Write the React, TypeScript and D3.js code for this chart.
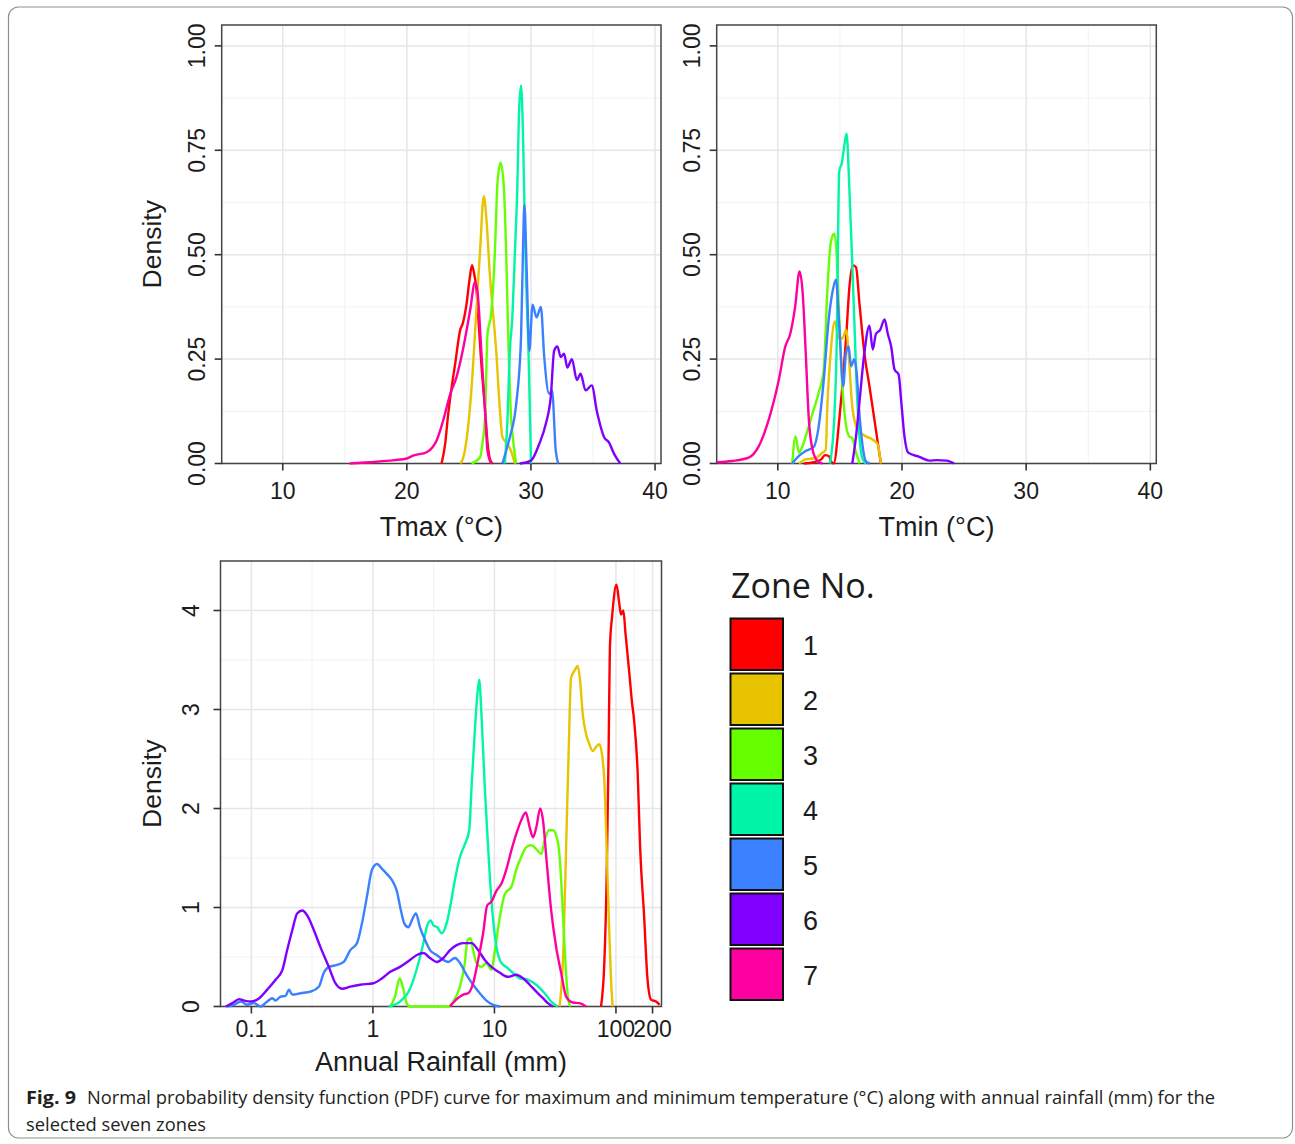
import React from "react";
import * as d3 from "d3";

type Pt = [number, number];

// ---------- categories / styling keys ----------
const ZONES = ["1", "2", "3", "4", "5", "6", "7"];
const ZONE_COLORS = ["#FF0000", "#E8C300", "#66FF00", "#00F5A8", "#3A80FF", "#8000FF", "#FF00A0"];

// ---------- tick labels ----------
const TEMP_X_TICKS = [10, 20, 30, 40];
const TEMP_X_MINOR = [15, 25, 35];
const TEMP_Y_TICKS = [0, 0.25, 0.5, 0.75, 1];
const TEMP_Y_LABELS = ["0.00", "0.25", "0.50", "0.75", "1.00"];
const TEMP_Y_MINOR = [0.125, 0.375, 0.625, 0.875];
const RAIN_X_TICKS = [0.1, 1, 10, 100, 200];
const RAIN_X_LABELS = ["0.1", "1", "10", "100", "200"];
const RAIN_X_MINOR = [0.316, 3.16, 31.6, 141.4];
const RAIN_Y_TICKS = [0, 1, 2, 3, 4];
const RAIN_Y_LABELS = ["0", "1", "2", "3", "4"];
const RAIN_Y_MINOR = [0.5, 1.5, 2.5, 3.5];

// ---------- Tmax density (°C, density) ----------
const tmaxZone1: Pt[] = [[22.8,0],[23.1,0.05],[23.3,0.11],[23.6,0.18],[23.9,0.24],[24.3,0.32],[24.5,0.335],[24.8,0.38],[25.05,0.44],[25.25,0.475],[25.45,0.45],[25.6,0.42],[25.8,0.33],[26.0,0.24],[26.3,0.13],[26.5,0.05],[26.7,0.01],[26.9,0]];
const tmaxZone2: Pt[] = [[24.3,0],[24.6,0.02],[24.8,0.055],[25.2,0.175],[25.6,0.367],[25.9,0.51],[26.2,0.64],[26.4,0.59],[26.7,0.447],[26.9,0.375],[27.2,0.27],[27.5,0.127],[27.7,0.063],[28.1,0.047],[28.4,0.03],[28.7,0]];
const tmaxZone3: Pt[] = [[25.2,0],[25.9,0.015],[26.1,0.05],[26.3,0.11],[26.5,0.31],[26.8,0.36],[27.1,0.51],[27.3,0.67],[27.55,0.72],[27.8,0.67],[28.0,0.51],[28.2,0.27],[28.4,0.11],[28.6,0.047],[28.8,0]];
const tmaxZone4: Pt[] = [[27.9,0],[28.1,0.1],[28.3,0.27],[28.5,0.35],[28.7,0.5],[28.9,0.66],[29.05,0.85],[29.2,0.905],[29.35,0.8],[29.47,0.625],[29.6,0.45],[29.8,0.27],[29.95,0.08],[30.0,0]];
const tmaxZone5: Pt[] = [[27.7,0],[28.0,0.03],[28.3,0.063],[28.8,0.14],[29.2,0.3],[29.35,0.5],[29.47,0.62],[29.65,0.47],[29.87,0.27],[30.13,0.38],[30.45,0.35],[30.8,0.375],[31.07,0.255],[31.47,0.167],[31.7,0.175],[32.0,0.03],[32.2,0]];
const tmaxZone6: Pt[] = [[29.1,0],[30.0,0.007],[30.67,0.047],[31.2,0.095],[31.6,0.16],[31.87,0.27],[32.13,0.28],[32.4,0.255],[32.67,0.263],[32.93,0.23],[33.3,0.25],[33.7,0.2],[34.0,0.215],[34.4,0.175],[34.9,0.187],[35.3,0.127],[35.9,0.063],[36.3,0.05],[36.7,0.023],[37.2,0]];
const tmaxZone7: Pt[] = [[15.4,0],[17,0.003],[19,0.008],[20,0.012],[20.5,0.019],[21.6,0.027],[22.1,0.04],[22.4,0.055],[22.9,0.1],[23.5,0.167],[24,0.207],[24.5,0.27],[25.1,0.367],[25.5,0.435],[25.7,0.41],[26,0.27],[26.3,0.127],[26.5,0.03],[26.8,0]];

// ---------- Tmin density ----------
const tminZone1: Pt[] = [[12.1,0],[12.9,0.003],[13.5,0.01],[13.8,0.02],[14.1,0.018],[14.3,0.005],[14.5,0],[14.95,0.105],[15.2,0.185],[15.5,0.3],[15.76,0.42],[16.03,0.475],[16.3,0.47],[16.57,0.385],[16.97,0.265],[17.38,0.185],[17.78,0.105],[18.05,0.05],[18.3,0]];
const tminZone2: Pt[] = [[11.7,0],[12.24,0.01],[13.05,0.013],[13.6,0.026],[13.86,0.033],[14.0,0.145],[14.27,0.27],[14.6,0.34],[14.9,0.3],[15.2,0.3],[15.5,0.32],[15.7,0.265],[15.97,0.145],[16.3,0.09],[16.7,0.073],[17.1,0.065],[17.65,0.057],[18.05,0.045],[18.3,0]];
const tminZone3: Pt[] = [[11.16,0],[11.43,0.065],[11.7,0.026],[11.97,0.04],[12.4,0.08],[12.8,0.12],[13.3,0.17],[13.7,0.225],[14.0,0.42],[14.27,0.53],[14.54,0.55],[14.7,0.52],[14.95,0.345],[15.2,0.185],[15.5,0.09],[15.75,0.065],[16.0,0.06],[16.3,0.026],[16.6,0]];
const tminZone4: Pt[] = [[14.2,0],[14.54,0.105],[14.73,0.265],[14.95,0.7],[15.16,0.72],[15.35,0.76],[15.54,0.79],[15.76,0.66],[15.97,0.5],[16.16,0.345],[16.35,0.185],[16.57,0.065],[16.84,0.01],[17.1,0]];
const tminZone5: Pt[] = [[11.16,0],[11.7,0.018],[12.24,0.03],[12.9,0.04],[13.3,0.09],[13.7,0.2],[14.1,0.345],[14.4,0.41],[14.68,0.44],[14.95,0.33],[15.27,0.185],[15.49,0.265],[15.7,0.28],[15.9,0.233],[16.16,0.25],[16.35,0.217],[16.57,0.12],[16.84,0.04],[17.1,0.005],[17.4,0]];
const tminZone6: Pt[] = [[16.0,0],[16.3,0.065],[16.57,0.145],[16.97,0.265],[17.38,0.33],[17.65,0.273],[17.9,0.31],[18.24,0.32],[18.6,0.345],[18.86,0.31],[19.13,0.28],[19.4,0.225],[19.73,0.213],[19.95,0.145],[20.2,0.065],[20.5,0.026],[21.4,0.016],[22.2,0.007],[22.8,0.008],[23.6,0.007],[24.2,0]];
const tminZone7: Pt[] = [[5.1,0.003],[6.3,0.006],[7.65,0.014],[8.46,0.041],[9.27,0.105],[10.08,0.2],[10.6,0.28],[11.0,0.31],[11.4,0.376],[11.75,0.46],[12.0,0.41],[12.25,0.265],[12.5,0.105],[12.8,0.033],[13.2,0.006],[13.6,0]];

// ---------- Annual rainfall density (mm, density) ----------
const rainZone1: Pt[] = [[75.3,0],[80.2,0.44],[83.8,1.28],[87.1,2.62],[89.1,3.62],[93.3,3.96],[101,4.26],[106,4.09],[110,3.96],[115,4.0],[120,3.76],[129,3.36],[135,3.09],[141,2.89],[151,2.35],[158,1.61],[170,0.94],[182,0.27],[195,0.067],[214,0.05],[229,0.017]];
const rainZone2: Pt[] = [[34.4,0],[37.0,0.6],[38.9,1.61],[40.9,2.62],[42.7,3.32],[45.5,3.39],[48.5,3.44],[50.7,3.29],[53.3,2.95],[56.8,2.75],[60.4,2.65],[64.4,2.58],[68.5,2.62],[72.9,2.65],[76.7,2.55],[80.2,2.28],[83.8,1.61],[87.1,0.94],[91.0,0.27],[94.0,0]];
const rainZone3: Pt[] = [[1.39,0],[1.52,0.1],[1.66,0.285],[1.76,0.2],[1.9,0.03],[2.0,0],[4.17,0],[4.58,0.05],[5.2,0.2],[5.71,0.44],[6.0,0.67],[6.36,0.69],[6.68,0.57],[7.12,0.44],[7.82,0.4],[8.6,0.44],[9.44,0.37],[10.1,0.57],[11.1,0.91],[12.2,1.14],[13.8,1.21],[15.1,1.38],[16.6,1.51],[18.3,1.61],[20.1,1.63],[22.1,1.59],[24.3,1.54],[25.9,1.68],[28.1,1.78],[30.3,1.78],[32.6,1.71],[34.4,1.51],[36.6,0.94],[38.4,0.44],[40.2,0.1],[42,0]];
const rainZone4: Pt[] = [[1.34,0],[1.67,0.05],[2.02,0.18],[2.37,0.44],[2.6,0.64],[2.77,0.8],[2.99,0.87],[3.14,0.82],[3.39,0.8],[3.68,0.74],[4.04,0.84],[4.31,1.0],[4.73,1.28],[5.2,1.51],[5.71,1.64],[6.2,1.78],[6.48,2.21],[6.9,2.79],[7.2,3.12],[7.49,3.3],[7.82,2.95],[8.33,2.21],[8.87,1.61],[9.45,1.07],[10.4,0.6],[11.4,0.44],[12.5,0.4],[14.2,0.34],[16.1,0.285],[18.9,0.27],[22.1,0.22],[25.9,0.134],[29.3,0.05],[33.3,0]];
const rainZone5: Pt[] = [[0.0636,0],[0.0721,0.017],[0.0818,0.05],[0.0927,0.017],[0.105,0.034],[0.119,0],[0.135,0.05],[0.149,0.084],[0.158,0.06],[0.174,0.1],[0.191,0.107],[0.204,0.17],[0.217,0.12],[0.254,0.134],[0.306,0.15],[0.359,0.2],[0.394,0.34],[0.434,0.4],[0.507,0.42],[0.575,0.45],[0.652,0.57],[0.74,0.64],[0.813,0.84],[0.893,1.11],[0.982,1.38],[1.08,1.44],[1.19,1.39],[1.3,1.34],[1.43,1.28],[1.57,1.17],[1.7,0.97],[1.81,0.84],[1.96,0.8],[2.09,0.87],[2.26,0.94],[2.44,0.8],[2.69,0.67],[2.95,0.57],[3.35,0.52],[3.8,0.47],[4.17,0.45],[4.73,0.49],[5.2,0.44],[5.89,0.32],[6.68,0.22],[7.58,0.134],[8.6,0.06],[9.75,0.017],[11.1,0]];
const rainZone6: Pt[] = [[0.0616,0],[0.0698,0.034],[0.0792,0.074],[0.0871,0.06],[0.0988,0.05],[0.116,0.084],[0.135,0.17],[0.158,0.27],[0.18,0.37],[0.197,0.57],[0.217,0.77],[0.238,0.94],[0.262,0.97],[0.288,0.92],[0.327,0.77],[0.37,0.6],[0.434,0.4],[0.491,0.235],[0.557,0.18],[0.652,0.2],[0.787,0.22],[1.01,0.235],[1.19,0.285],[1.39,0.35],[1.67,0.4],[2.02,0.47],[2.3,0.52],[2.6,0.54],[2.95,0.49],[3.35,0.45],[3.8,0.49],[4.31,0.57],[4.89,0.62],[5.53,0.64],[6.48,0.64],[7.34,0.57],[8.33,0.47],[9.45,0.4],[11.1,0.34],[12.9,0.3],[15.1,0.32],[17.2,0.285],[19.5,0.22],[22.1,0.15],[25.1,0.084],[27.5,0.034],[30.3,0]];
const rainZone7: Pt[] = [[4.31,0],[4.89,0.074],[5.53,0.12],[6.08,0.134],[6.68,0.235],[7.34,0.47],[8.07,0.74],[8.71,1.02],[9.45,1.06],[10.4,1.17],[11.4,1.24],[12.5,1.38],[13.8,1.58],[15.1,1.74],[16.6,1.88],[18.1,1.96],[19.5,1.81],[20.8,1.71],[22.1,1.81],[23.8,2.0],[25.1,1.88],[27.0,1.44],[29.3,0.97],[32.2,0.6],[35.4,0.34],[38.9,0.1],[44.2,0.04],[50.1,0.034],[56.8,0]];

const TMAX_SERIES = [tmaxZone1, tmaxZone2, tmaxZone3, tmaxZone4, tmaxZone5, tmaxZone6, tmaxZone7];
const TMIN_SERIES = [tminZone1, tminZone2, tminZone3, tminZone4, tminZone5, tminZone6, tminZone7];
const RAIN_SERIES = [rainZone1, rainZone2, rainZone3, rainZone4, rainZone5, rainZone6, rainZone7];

const AXIS_FONT = "'Liberation Sans', Arial, Helvetica, sans-serif";
const TEXT_COLOR = "#1c1c1c";

type PanelProps = {
  id: string;
  x: any;
  y: any;
  left: number;
  right: number;
  top: number;
  bottom: number;
  xTicks: number[];
  xLabels: string[];
  xMinor: number[];
  yTicks: number[];
  yLabels: string[];
  yMinor: number[];
  series: Pt[][];
  xTitle: string;
  xLabelBase: number;
  xTitleBase: number;
  yLabelX: number;
  showYTitle: boolean;
};

function Panel(p: PanelProps) {
  const line = d3
    .line<Pt>()
    .x((d) => p.x(d[0]))
    .y((d) => p.y(d[1]))
    .curve(d3.curveMonotoneX);
  const cx = (p.left + p.right) / 2;
  const cy = (p.top + p.bottom) / 2;
  return (
    <g>
      <defs>
        <clipPath id={p.id}>
          <rect x={p.left} y={p.top} width={p.right - p.left} height={p.bottom - p.top + 2} />
        </clipPath>
      </defs>
      <rect x={p.left} y={p.top} width={p.right - p.left} height={p.bottom - p.top} fill="#fff" />
      {p.xMinor.map((v) => (
        <line key={"xm" + v} x1={p.x(v)} x2={p.x(v)} y1={p.top} y2={p.bottom} stroke="#F1F1F1" strokeWidth={0.9} />
      ))}
      {p.yMinor.map((v) => (
        <line key={"ym" + v} x1={p.left} x2={p.right} y1={p.y(v)} y2={p.y(v)} stroke="#F1F1F1" strokeWidth={0.9} />
      ))}
      {p.xTicks.map((v) => (
        <line key={"xg" + v} x1={p.x(v)} x2={p.x(v)} y1={p.top} y2={p.bottom} stroke="#E6E6E6" strokeWidth={1.5} />
      ))}
      {p.yTicks.map((v) => (
        <line key={"yg" + v} x1={p.left} x2={p.right} y1={p.y(v)} y2={p.y(v)} stroke="#E6E6E6" strokeWidth={1.5} />
      ))}
      <rect x={p.left} y={p.top} width={p.right - p.left} height={p.bottom - p.top} fill="none" stroke="#444" strokeWidth={1.5} />
      {p.xTicks.map((v) => (
        <line key={"xt" + v} x1={p.x(v)} x2={p.x(v)} y1={p.bottom} y2={p.bottom + 7} stroke="#333" strokeWidth={1.6} />
      ))}
      {p.yTicks.map((v) => (
        <line key={"yt" + v} x1={p.left - 7} x2={p.left} y1={p.y(v)} y2={p.y(v)} stroke="#333" strokeWidth={1.6} />
      ))}
      <g clipPath={`url(#${p.id})`}>
        {p.series.map((s, i) => (
          <path key={"s" + i} d={line(s) || ""} fill="none" stroke={ZONE_COLORS[i]} strokeWidth={2.4} strokeLinejoin="round" />
        ))}
      </g>
      {p.xTicks.map((v, i) => (
        <text key={"xl" + v} x={p.x(v)} y={p.xLabelBase} textAnchor="middle" fontFamily={AXIS_FONT} fontSize={23} fill={TEXT_COLOR}>
          {p.xLabels[i]}
        </text>
      ))}
      {p.yTicks.map((v, i) => (
        <text
          key={"yl" + v}
          transform={`translate(${p.yLabelX},${p.y(v)}) rotate(-90)`}
          textAnchor="middle"
          fontFamily={AXIS_FONT}
          fontSize={23}
          fill={TEXT_COLOR}
        >
          {p.yLabels[i]}
        </text>
      ))}
      <text x={cx} y={p.xTitleBase} textAnchor="middle" fontFamily={AXIS_FONT} fontSize={27} fill={TEXT_COLOR}>
        {p.xTitle}
      </text>
      {p.showYTitle && (
        <text
          transform={`translate(${161},${cy}) rotate(-90)`}
          textAnchor="middle"
          fontFamily={AXIS_FONT}
          fontSize={26.5}
          fill={TEXT_COLOR}
        >
          Density
        </text>
      )}
    </g>
  );
}

export default function App() {
  const tmaxX = d3.scaleLinear().domain([5.08, 40.48]).range([221.7, 661]);
  const tminX = d3.scaleLinear().domain([5.08, 40.48]).range([716.7, 1156.3]);
  const tempY = d3.scaleLinear().domain([0, 1.05]).range([463.5, 25]);
  const rainX = d3.scaleLog().domain([0.0557, 237]).range([220.5, 661.5]);
  const rainY = d3.scaleLinear().domain([0, 4.5]).range([1006.5, 561]);

  const keyX = 730.5;
  const keyTop = 618.5;
  const keyStep = 55;

  return (
    <div style={{ position: "absolute", left: 0, top: 0 }}>
      <svg width={1295} height={1144} style={{ display: "block", background: "#fff" }}>
        <rect x={8.5} y={7} width={1284} height={1131} rx={10} ry={10} fill="#fff" stroke="#8f8f8f" strokeWidth={1.2} />
        <Panel
          id="clipTmax"
          x={tmaxX}
          y={tempY}
          left={221.7}
          right={661}
          top={25}
          bottom={463.5}
          xTicks={TEMP_X_TICKS}
          xLabels={TEMP_X_TICKS.map(String)}
          xMinor={TEMP_X_MINOR}
          yTicks={TEMP_Y_TICKS}
          yLabels={TEMP_Y_LABELS}
          yMinor={TEMP_Y_MINOR}
          series={TMAX_SERIES}
          xTitle="Tmax (°C)"
          xLabelBase={499}
          xTitleBase={536}
          yLabelX={204.5}
          showYTitle={true}
        />
        <Panel
          id="clipTmin"
          x={tminX}
          y={tempY}
          left={716.7}
          right={1156.3}
          top={25}
          bottom={463.5}
          xTicks={TEMP_X_TICKS}
          xLabels={TEMP_X_TICKS.map(String)}
          xMinor={TEMP_X_MINOR}
          yTicks={TEMP_Y_TICKS}
          yLabels={TEMP_Y_LABELS}
          yMinor={TEMP_Y_MINOR}
          series={TMIN_SERIES}
          xTitle="Tmin (°C)"
          xLabelBase={499}
          xTitleBase={536}
          yLabelX={699.5}
          showYTitle={false}
        />
        <Panel
          id="clipRain"
          x={rainX}
          y={rainY}
          left={220.5}
          right={661.5}
          top={561}
          bottom={1006.5}
          xTicks={RAIN_X_TICKS}
          xLabels={RAIN_X_LABELS}
          xMinor={RAIN_X_MINOR}
          yTicks={RAIN_Y_TICKS}
          yLabels={RAIN_Y_LABELS}
          yMinor={RAIN_Y_MINOR}
          series={RAIN_SERIES}
          xTitle="Annual Rainfall (mm)"
          xLabelBase={1037}
          xTitleBase={1071}
          yLabelX={198.5}
          showYTitle={true}
        />
        {/* legend */}
        <text x={731} y={598} fontFamily="'Open Sans', 'Noto Sans', sans-serif" fontSize={34} fill={TEXT_COLOR}>
          Zone No.
        </text>
        {ZONES.map((z, i) => (
          <g key={"lg" + z}>
            <rect
              x={keyX}
              y={keyTop + i * keyStep}
              width={52.5}
              height={51.5}
              fill={ZONE_COLORS[i]}
              stroke="#111"
              strokeWidth={2}
            />
            <text
              x={803}
              y={keyTop + i * keyStep + 26 + 10}
              fontFamily={AXIS_FONT}
              fontSize={27}
              fill={TEXT_COLOR}
            >
              {z}
            </text>
          </g>
        ))}
        {/* caption */}
        <text x={26} y={1104} fontFamily="'Open Sans', 'Noto Sans', sans-serif" fontSize={18} fontWeight="bold" fill="#231f20" textLength={50} lengthAdjust="spacingAndGlyphs">
          Fig. 9
        </text>
        <text x={87} y={1104} fontFamily="'Open Sans', 'Noto Sans', sans-serif" fontSize={18} fill="#231f20" textLength={1128} lengthAdjust="spacingAndGlyphs">
          Normal probability density function (PDF) curve for maximum and minimum temperature (°C) along with annual rainfall (mm) for the
        </text>
        <text x={26} y={1131} fontFamily="'Open Sans', 'Noto Sans', sans-serif" fontSize={18} fill="#231f20" textLength={180} lengthAdjust="spacingAndGlyphs">
          selected seven zones
        </text>
      </svg>
    </div>
  );
}
